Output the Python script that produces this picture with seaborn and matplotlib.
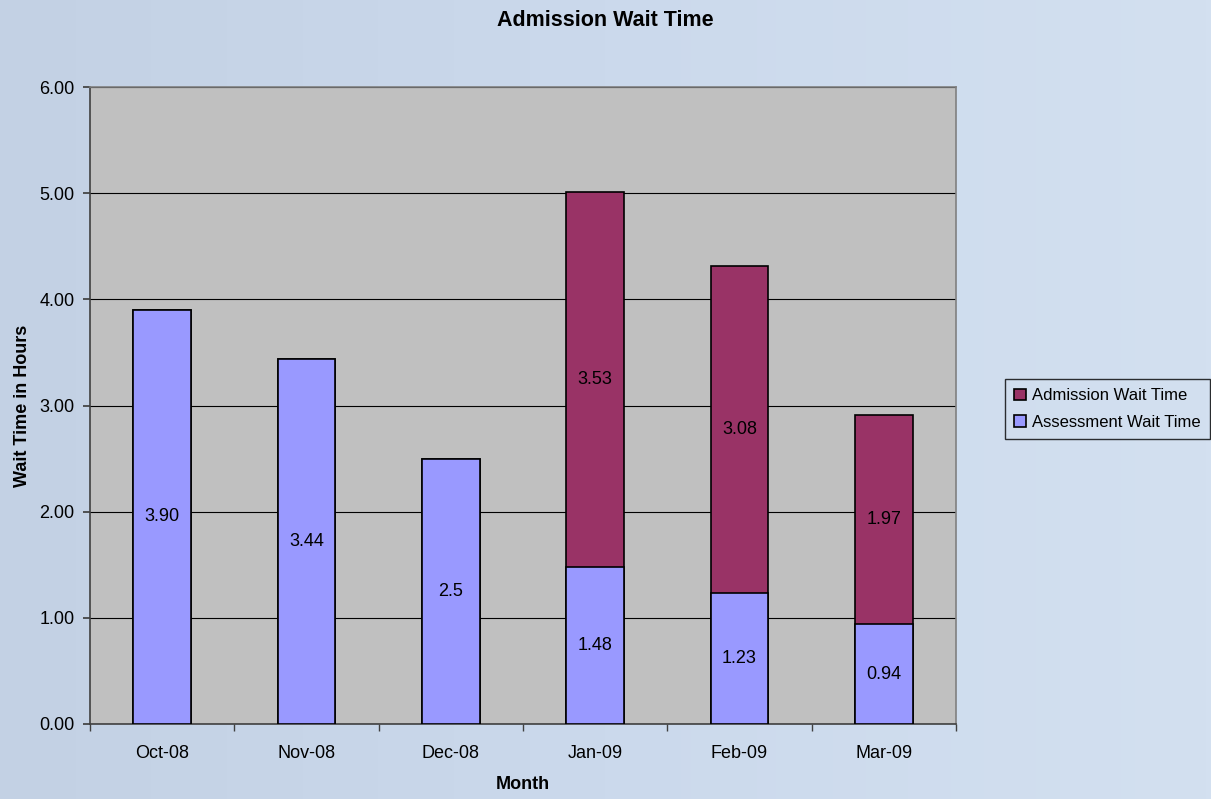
import numpy as np
import pandas as pd
import matplotlib
matplotlib.use("Agg")
import matplotlib.pyplot as plt
import matplotlib.ticker as mticker
import seaborn as sns

# datos
months = ["Oct-08", "Nov-08", "Dec-08", "Jan-09", "Feb-09", "Mar-09"]
assessment = [3.90, 3.44, 2.5, 1.48, 1.23, 0.94]
admission = [0.0, 0.0, 0.0, 3.53, 3.08, 1.97]
assess_labels = ["3.90", "3.44", "2.5", "1.48", "1.23", "0.94"]
admit_labels = ["", "", "", "3.53", "3.08", "1.97"]

df = pd.DataFrame({"month": months, "assessment": assessment, "admission": admission})
df["total"] = df["assessment"] + df["admission"]

sns.set_theme(style="white")
plt.rcParams["font.family"] = ["Liberation Sans", "DejaVu Sans"]
plt.rcParams.update({"text.color": "black", "axes.labelcolor": "black",
                     "xtick.color": "black", "ytick.color": "black"})

fig = plt.figure(figsize=(12.11, 7.99), dpi=100)
fig.patch.set_facecolor("#C9D7EA")

# fondo degradado suave
bg = fig.add_axes([0, 0, 1, 1], zorder=-10)
grad = np.linspace(0, 1, 256).reshape(1, -1)
bg.imshow(grad, aspect="auto", cmap=matplotlib.colors.LinearSegmentedColormap.from_list(
    "bgc", ["#C3D1E4", "#CBD9EC", "#D3E0F0"]), extent=[0, 1, 0, 1])
bg.axis("off")

ax = fig.add_axes([90 / 1211, 1 - 724 / 799, (956 - 90) / 1211, (724 - 87) / 799])
ax.set_facecolor("#C0C0C0")

sns.barplot(data=df, x="month", y="total", color="#993366", saturation=1,
            edgecolor="black", linewidth=1.2, width=0.4, ax=ax,
            label="Admission Wait Time", zorder=3)
sns.barplot(data=df, x="month", y="assessment", color="#9999FF", saturation=1,
            edgecolor="black", linewidth=1.2, width=0.4, ax=ax,
            label="Assessment Wait Time", zorder=3)
handles, labels = ax.get_legend_handles_labels()
if ax.get_legend() is not None:
    ax.get_legend().remove()

for i in range(len(months)):
    ax.text(i, assessment[i] / 2, assess_labels[i], ha="center", va="center",
            fontsize=13, color="black", zorder=5)
    if admission[i] > 0:
        ax.text(i, assessment[i] + admission[i] / 2, admit_labels[i], ha="center",
                va="center", fontsize=13, color="black", zorder=5)

ax.set_ylim(0, 6)
ax.set_xlim(-0.5, len(months) - 0.5)
ax.yaxis.set_major_locator(mticker.MultipleLocator(1))
ax.yaxis.set_major_formatter(mticker.FormatStrFormatter("%.2f"))
ax.grid(axis="y", color="black", linewidth=0.8, zorder=1)
ax.set_axisbelow(True)

ax.set_xticks(np.arange(len(months)))
ax.set_xticklabels(months)
ax.xaxis.set_minor_locator(mticker.FixedLocator(np.arange(-0.5, len(months), 1)))
ax.tick_params(axis="x", which="major", length=0, pad=15, labelsize=13)
ax.tick_params(axis="x", which="minor", length=5, direction="out", color="#404040", bottom=True)
ax.tick_params(axis="y", length=5, direction="out", color="#404040", left=True, labelsize=13, pad=6)

for s in ["left", "bottom"]:
    ax.spines[s].set_color("#404040")
    ax.spines[s].set_linewidth(1.2)
for s in ["top", "right"]:
    ax.spines[s].set_color("#808080")
    ax.spines[s].set_linewidth(1.2)

ax.set_xlabel("Month", fontsize=13, fontweight="bold", labelpad=10)
ax.set_ylabel("Wait Time in Hours", fontsize=13, fontweight="bold", labelpad=6)
fig.text(0.5, 1 - 21 / 799, "Admission Wait Time", ha="center", va="center",
         fontsize=15.5, fontweight="bold")

leg = fig.legend(handles, labels, loc="center left", bbox_to_anchor=(1005 / 1211, 1 - 409 / 799),
                 frameon=True, fontsize=12, handlelength=0.7, handleheight=0.7,
                 handletextpad=0.4, borderpad=0.55, labelspacing=0.7, fancybox=False,
                 borderaxespad=0)
leg.get_frame().set_facecolor("none")
leg.get_frame().set_edgecolor("black")
leg.get_frame().set_linewidth(1.0)

fig.savefig("out.png", dpi=100, facecolor=fig.get_facecolor())
